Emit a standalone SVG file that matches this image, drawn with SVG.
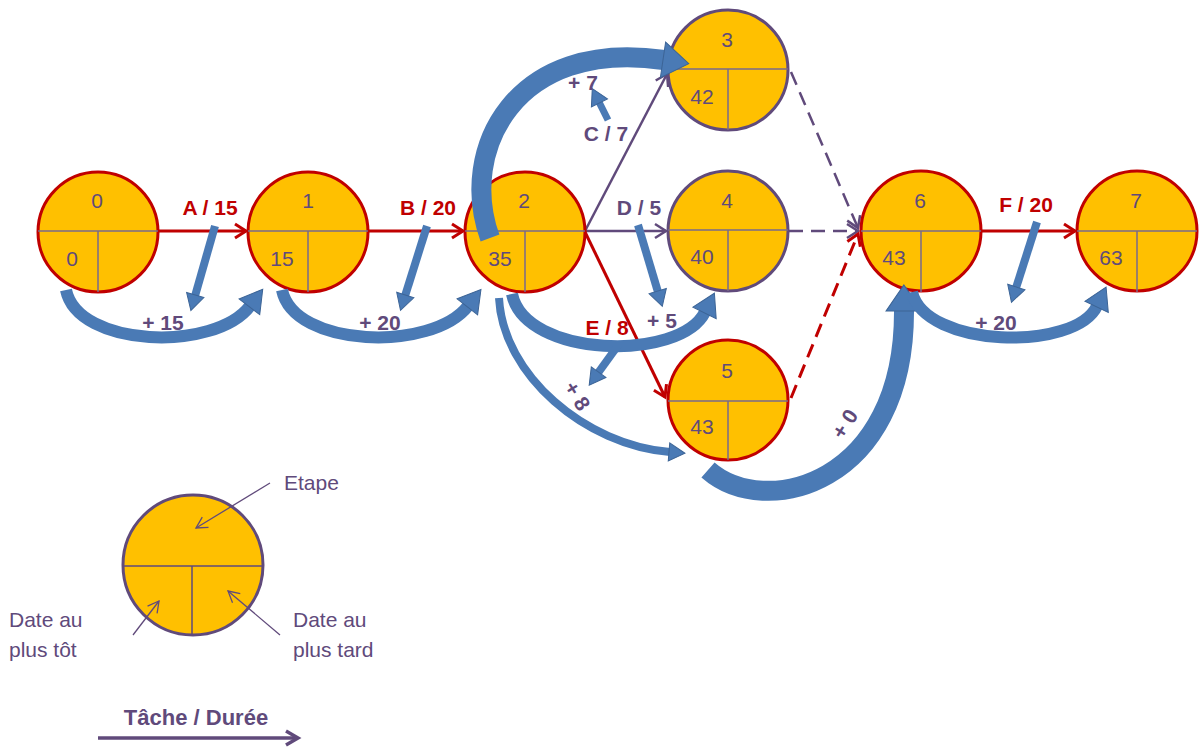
<svg xmlns="http://www.w3.org/2000/svg" width="1199" height="747" viewBox="0 0 1199 747">
<style>
.node{fill:#ffc000;stroke-width:3}
.r{stroke:#c00000}
.p{stroke:#604a7b}
.div{stroke:#7a6a8a;stroke-width:1.5;fill:none}
.num{font-family:"Liberation Sans",Arial,sans-serif;font-size:21px;fill:#604a7b;text-anchor:middle}
.lab{font-family:"Liberation Sans",Arial,sans-serif;font-size:21px;font-weight:bold;text-anchor:middle}
.lr{fill:#c00000}
.lp{fill:#604a7b}
.leg{font-family:"Liberation Sans",Arial,sans-serif;font-size:21px;fill:#604a7b}
.ar{stroke:#c00000;stroke-width:3;fill:none}
.ap{stroke:#604a7b;stroke-width:2.5;fill:none}
.dash{stroke-dasharray:14 8}
.band{stroke:#4a7ab5;fill:none;stroke-linecap:butt}
.thin{stroke:#604a7b;stroke-width:1.3;fill:none}
</style>
<defs>
<marker id="mr" markerUnits="userSpaceOnUse" markerWidth="16" markerHeight="18" refX="12" refY="8" orient="auto" overflow="visible">
<path d="M1,1 L12,8 L1,15" fill="none" stroke="#c00000" stroke-width="3"/>
</marker>
<marker id="mp" markerUnits="userSpaceOnUse" markerWidth="16" markerHeight="18" refX="12" refY="8" orient="auto" overflow="visible">
<path d="M1,1 L12,8 L1,15" fill="none" stroke="#604a7b" stroke-width="2.5"/>
</marker>
<marker id="mt" markerUnits="userSpaceOnUse" markerWidth="14" markerHeight="14" refX="11" refY="6" orient="auto" overflow="visible">
<path d="M0,0 L11,6 L0,12" fill="none" stroke="#604a7b" stroke-width="1.3"/>
</marker>
<marker id="mtb" markerUnits="userSpaceOnUse" markerWidth="16" markerHeight="18" refX="13" refY="8" orient="auto" overflow="visible">
<path d="M1,1 L13,8 L1,15" fill="none" stroke="#604a7b" stroke-width="3.5"/>
</marker>
<marker id="bh" markerUnits="userSpaceOnUse" markerWidth="30" markerHeight="30" refX="1" refY="13" orient="auto" overflow="visible">
<path d="M0,0 L22,13 L0,26 z" fill="#4a7ab5" stroke="#3c6496" stroke-width="1"/>
</marker>
<marker id="bhs" markerUnits="userSpaceOnUse" markerWidth="20" markerHeight="20" refX="1" refY="9" orient="auto" overflow="visible">
<path d="M0,0 L16,9 L0,18 z" fill="#4a7ab5" stroke="#3c6496" stroke-width="1"/>
</marker>
<marker id="bhl" markerUnits="userSpaceOnUse" markerWidth="40" markerHeight="40" refX="1" refY="18" orient="auto" overflow="visible">
<path d="M0,0 L26,18 L0,36 z" fill="#4a7ab5" stroke="#3c6496" stroke-width="1"/>
</marker>
</defs>

<g id="connectors">
<line class="ar" x1="158" y1="231" x2="246" y2="231" marker-end="url(#mr)"/>
<line class="ar" x1="368" y1="231" x2="463" y2="231" marker-end="url(#mr)"/>
<line class="ap" x1="585" y1="231" x2="667" y2="74" marker-end="url(#mp)"/>
<line class="ap" x1="585" y1="231" x2="666" y2="231" marker-end="url(#mp)"/>
<line class="ar" x1="585" y1="232" x2="665" y2="397" marker-end="url(#mr)"/>
<line class="ap dash" x1="791" y1="72" x2="858" y2="228" marker-end="url(#mp)" stroke-width="3"/>
<line class="ap dash" x1="789" y1="231" x2="858" y2="231" marker-end="url(#mp)" stroke-width="3"/>
<line class="ar dash" x1="791" y1="398" x2="858" y2="234" marker-end="url(#mr)"/>
<line class="ar" x1="981" y1="231" x2="1075" y2="231" marker-end="url(#mr)"/>
<text class="lab lr" x="210" y="215">A / 15</text>
<text class="lab lr" x="428" y="215">B / 20</text>
<text class="lab lp" x="606" y="141">C / 7</text>
<text class="lab lp" x="639" y="215">D / 5</text>
<text class="lab lr" x="607" y="335">E / 8</text>
<text class="lab lr" x="1026" y="212">F / 20</text>
</g>

<g id="node0"><circle class="node r" cx="98" cy="232" r="60"/><path class="div" d="M38,231 H158 M98,231 V292"/><text class="num" x="97" y="208">0</text><text class="num" x="72" y="266">0</text></g>
<g id="node1"><circle class="node r" cx="308" cy="232" r="60"/><path class="div" d="M248,231 H368 M308,231 V292"/><text class="num" x="308" y="208">1</text><text class="num" x="282" y="266">15</text></g>
<g id="node2"><circle class="node r" cx="525" cy="232" r="60"/><path class="div" d="M465,231 H585 M525,231 V292"/><text class="num" x="524" y="208">2</text><text class="num" x="500" y="266">35</text></g>
<g id="node3"><circle class="node p" cx="728" cy="70" r="60"/><path class="div" d="M668,69 H788 M728,69 V130"/><text class="num" x="727" y="47">3</text><text class="num" x="702" y="104">42</text></g>
<g id="node4"><circle class="node p" cx="728" cy="231" r="60"/><path class="div" d="M668,230 H788 M728,230 V291"/><text class="num" x="727" y="208">4</text><text class="num" x="702" y="264">40</text></g>
<g id="node5"><circle class="node r" cx="728" cy="400" r="60"/><path class="div" d="M668,401 H788 M728,401 V460"/><text class="num" x="727" y="378">5</text><text class="num" x="702" y="434">43</text></g>
<g id="node6"><circle class="node r" cx="921" cy="231" r="60"/><path class="div" d="M861,231 H981 M921,231 V292"/><text class="num" x="920" y="208">6</text><text class="num" x="894" y="265">43</text></g>
<g id="node7"><circle class="node r" cx="1137" cy="231" r="60"/><path class="div" d="M1077,231 H1197 M1137,231 V292"/><text class="num" x="1136" y="208">7</text><text class="num" x="1111" y="265">63</text></g>

<g id="slack-arrows">
<path class="band" stroke-width="12" d="M66,290 C78,348 215,352 250,306" marker-end="url(#bh)"/>
<path class="band" stroke-width="12" d="M282,290 C294,348 432,352 468,306" marker-end="url(#bh)"/>
<path class="band" stroke-width="12" d="M512,294 C525,358 680,362 705,312" marker-end="url(#bh)"/>
<path class="band" stroke-width="8" d="M499,298 C503,375 585,445 670,452" marker-end="url(#bhs)"/>
<path class="band" stroke-width="20" d="M490,238 C458,150 515,38 664,60" marker-end="url(#bhl)"/>
<path class="band" stroke-width="20" d="M708,470 C765,520 905,485 904,310" marker-end="url(#bhl)"/>
<path class="band" stroke-width="12" d="M912,292 C925,348 1075,352 1097,306" marker-end="url(#bh)"/>
<path class="band" stroke-width="8" d="M215,226 L195,296" marker-end="url(#bhs)"/>
<path class="band" stroke-width="8" d="M427,226 L405,296" marker-end="url(#bhs)"/>
<path class="band" stroke-width="7" d="M608,120 L599,102" marker-end="url(#bhs)"/>
<path class="band" stroke-width="8" d="M638,225 L658,292" marker-end="url(#bhs)"/>
<path class="band" stroke-width="8" d="M619,344 L598,373" marker-end="url(#bhs)"/>
<path class="band" stroke-width="8" d="M1037,222 L1016,288" marker-end="url(#bhs)"/>
<text class="lab lp" x="163" y="330">+ 15</text>
<text class="lab lp" x="380" y="330">+ 20</text>
<text class="lab lp" x="583" y="90">+ 7</text>
<text class="lab lp" x="662" y="328">+ 5</text>
<text class="lab lp" x="996" y="330">+ 20</text>
<text class="lab lp" transform="translate(577,396) rotate(58)" x="0" y="7">+ 8</text>
<text class="lab lp" transform="translate(845,424) rotate(-58)" x="0" y="7">+ 0</text>
</g>

<g id="legend">
<circle class="node p" cx="193" cy="565" r="70"/>
<path class="div" d="M123,566 H263 M192,566 V634" style="stroke:#604a7b"/>
<line class="thin" x1="270" y1="483" x2="196" y2="528" marker-end="url(#mt)"/>
<line class="thin" x1="133" y1="635" x2="159" y2="601" marker-end="url(#mt)"/>
<line class="thin" x1="280" y1="635" x2="228" y2="591" marker-end="url(#mt)"/>
<text class="leg" x="284" y="490">Etape</text>
<text class="leg" x="9" y="627">Date au</text>
<text class="leg" x="9" y="657">plus tôt</text>
<text class="leg" x="293" y="627">Date au</text>
<text class="leg" x="293" y="657">plus tard</text>
<text class="lab lp" x="196" y="725" style="font-size:22px">Tâche / Durée</text>
<line x1="98" y1="738" x2="298" y2="738" stroke="#604a7b" stroke-width="3.5" marker-end="url(#mtb)"/>
</g>
</svg>
